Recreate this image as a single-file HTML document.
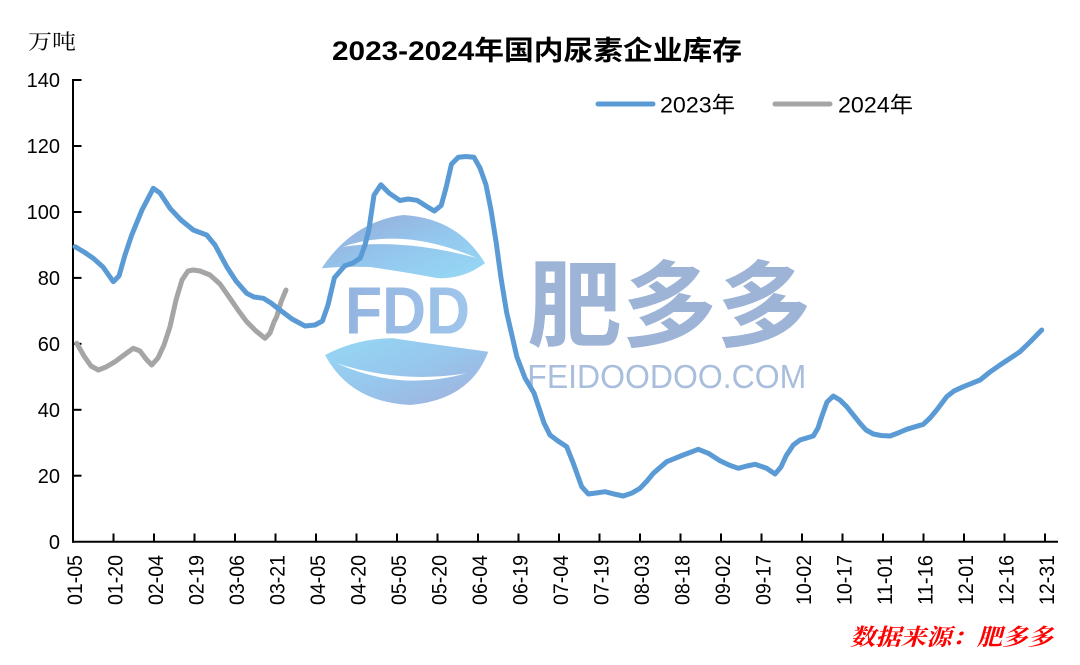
<!DOCTYPE html>
<html><head><meta charset="utf-8">
<style>
html,body{margin:0;padding:0;background:#fff;}
svg{display:block;}
</style></head>
<body>
<svg width="1080" height="665" viewBox="0 0 1080 665" xmlns="http://www.w3.org/2000/svg">
<defs>
<linearGradient id="g1" x1="0" y1="0" x2="1" y2="1">
<stop offset="0" stop-color="#96a9d7"/>
<stop offset="0.55" stop-color="#94c8ee"/>
<stop offset="1" stop-color="#96d9f5"/>
</linearGradient>
<linearGradient id="g2" x1="0" y1="0" x2="1" y2="1">
<stop offset="0" stop-color="#95d8f5"/>
<stop offset="0.5" stop-color="#97c6ec"/>
<stop offset="1" stop-color="#a0afdb"/>
</linearGradient>
<linearGradient id="g3" x1="0" y1="0" x2="1" y2="0">
<stop offset="0" stop-color="#93b4e0"/>
<stop offset="1" stop-color="#a0c6ec"/>
</linearGradient>
</defs>

<!-- watermark -->
<path d="M321.7,268.3 Q352,222 403,215 Q458,218 485,263.3 Q462,280 436.7,278 Q405,272 370,267 Q345,266 321.7,268.3 Z" fill="url(#g1)"/>
<path d="M343,246.7 Q403,226 476.7,258 Q403,238 343,246.7 Z" fill="#fff"/>
<path d="M325,355 Q358,338 393.3,338.3 Q430,344 488.3,351.7 Q470,400 410,405 Q350,402 325,355 Z" fill="url(#g2)"/>
<path d="M336.7,363.3 Q400,392 466.7,373.3 Q400,384 336.7,363.3 Z" fill="#fff"/>
<text x="345" y="333.5" font-family="Liberation Sans, sans-serif" font-weight="bold" font-size="67" textLength="125" lengthAdjust="spacingAndGlyphs" fill="url(#g3)">FDD</text>
<text x="527.3" y="339" font-family="Noto Sans CJK SC, sans-serif" font-weight="bold" font-size="94" textLength="284" lengthAdjust="spacingAndGlyphs" fill="#9db4d7">肥多多</text>
<text x="527.3" y="387.9" font-family="Liberation Sans, sans-serif" font-size="33" textLength="279" lengthAdjust="spacingAndGlyphs" fill="#a8bedc">FEIDOODOO.COM</text>

<!-- title & labels -->
<text x="332" y="60" font-family="Liberation Sans, Noto Sans CJK SC, sans-serif" font-weight="bold" font-size="27" textLength="410" lengthAdjust="spacingAndGlyphs" fill="#000">2023-2024年国内尿素企业库存</text>
<text x="28" y="49" font-family="Liberation Serif, Noto Serif CJK SC, serif" font-size="21" textLength="48" lengthAdjust="spacingAndGlyphs" fill="#000">万吨</text>
<text x="850" y="645" font-family="Liberation Serif, Noto Serif CJK SC, serif" font-style="italic" font-weight="bold" font-size="23" textLength="203" lengthAdjust="spacingAndGlyphs" fill="#ff0000">数据来源：肥多多</text>

<!-- legend -->
<line x1="598" y1="104" x2="653" y2="104" stroke="#5b9bd5" stroke-width="5" stroke-linecap="round"/>
<text x="660" y="112.5" font-family="Liberation Sans, Noto Sans CJK SC, sans-serif" font-size="22" textLength="75" lengthAdjust="spacingAndGlyphs" fill="#000">2023年</text>
<line x1="775" y1="104" x2="830" y2="104" stroke="#a5a5a5" stroke-width="5" stroke-linecap="round"/>
<text x="838" y="112.5" font-family="Liberation Sans, Noto Sans CJK SC, sans-serif" font-size="22" textLength="75" lengthAdjust="spacingAndGlyphs" fill="#000">2024年</text>

<!-- axes -->
<g stroke="#000" stroke-width="2" fill="none">
<line x1="73" y1="79" x2="73" y2="542.7"/>
<line x1="72" y1="541.7" x2="1058" y2="541.7"/>
<line x1="73" y1="80" x2="81.5" y2="80"/>
<line x1="73" y1="146" x2="81.5" y2="146"/>
<line x1="73" y1="212" x2="81.5" y2="212"/>
<line x1="73" y1="277.9" x2="81.5" y2="277.9"/>
<line x1="73" y1="343.8" x2="81.5" y2="343.8"/>
<line x1="73" y1="409.8" x2="81.5" y2="409.8"/>
<line x1="73" y1="475.7" x2="81.5" y2="475.7"/>
</g>
<g stroke="#000" stroke-width="2">
<line x1="113.5" y1="541.7" x2="113.5" y2="533.5"/>
<line x1="154" y1="541.7" x2="154" y2="533.5"/>
<line x1="194.5" y1="541.7" x2="194.5" y2="533.5"/>
<line x1="235" y1="541.7" x2="235" y2="533.5"/>
<line x1="275.5" y1="541.7" x2="275.5" y2="533.5"/>
<line x1="316" y1="541.7" x2="316" y2="533.5"/>
<line x1="356.5" y1="541.7" x2="356.5" y2="533.5"/>
<line x1="397" y1="541.7" x2="397" y2="533.5"/>
<line x1="437.5" y1="541.7" x2="437.5" y2="533.5"/>
<line x1="478" y1="541.7" x2="478" y2="533.5"/>
<line x1="518.5" y1="541.7" x2="518.5" y2="533.5"/>
<line x1="559" y1="541.7" x2="559" y2="533.5"/>
<line x1="599.5" y1="541.7" x2="599.5" y2="533.5"/>
<line x1="640" y1="541.7" x2="640" y2="533.5"/>
<line x1="680.5" y1="541.7" x2="680.5" y2="533.5"/>
<line x1="721" y1="541.7" x2="721" y2="533.5"/>
<line x1="761.5" y1="541.7" x2="761.5" y2="533.5"/>
<line x1="802" y1="541.7" x2="802" y2="533.5"/>
<line x1="842.5" y1="541.7" x2="842.5" y2="533.5"/>
<line x1="883" y1="541.7" x2="883" y2="533.5"/>
<line x1="923.5" y1="541.7" x2="923.5" y2="533.5"/>
<line x1="964" y1="541.7" x2="964" y2="533.5"/>
<line x1="1004.5" y1="541.7" x2="1004.5" y2="533.5"/>
<line x1="1045" y1="541.7" x2="1045" y2="533.5"/>
</g>

<!-- y labels -->
<g font-family="Liberation Sans, sans-serif" font-size="20" fill="#000" text-anchor="end">
<text x="60" y="87">140</text>
<text x="60" y="153">120</text>
<text x="60" y="219">100</text>
<text x="60" y="285">80</text>
<text x="60" y="351">60</text>
<text x="60" y="417">40</text>
<text x="60" y="483">20</text>
<text x="60" y="549">0</text>
</g>

<!-- x labels -->
<g font-family="Liberation Sans, sans-serif" font-size="21" fill="#000" text-anchor="end">
<text transform="translate(82.2,555) rotate(-90)" textLength="50" lengthAdjust="spacingAndGlyphs">01-05</text>
<text transform="translate(122.7,555) rotate(-90)" textLength="50" lengthAdjust="spacingAndGlyphs">01-20</text>
<text transform="translate(163.2,555) rotate(-90)" textLength="50" lengthAdjust="spacingAndGlyphs">02-04</text>
<text transform="translate(203.7,555) rotate(-90)" textLength="50" lengthAdjust="spacingAndGlyphs">02-19</text>
<text transform="translate(244.2,555) rotate(-90)" textLength="50" lengthAdjust="spacingAndGlyphs">03-06</text>
<text transform="translate(284.7,555) rotate(-90)" textLength="50" lengthAdjust="spacingAndGlyphs">03-21</text>
<text transform="translate(325.2,555) rotate(-90)" textLength="50" lengthAdjust="spacingAndGlyphs">04-05</text>
<text transform="translate(365.7,555) rotate(-90)" textLength="50" lengthAdjust="spacingAndGlyphs">04-20</text>
<text transform="translate(406.2,555) rotate(-90)" textLength="50" lengthAdjust="spacingAndGlyphs">05-05</text>
<text transform="translate(446.7,555) rotate(-90)" textLength="50" lengthAdjust="spacingAndGlyphs">05-20</text>
<text transform="translate(487.2,555) rotate(-90)" textLength="50" lengthAdjust="spacingAndGlyphs">06-04</text>
<text transform="translate(527.7,555) rotate(-90)" textLength="50" lengthAdjust="spacingAndGlyphs">06-19</text>
<text transform="translate(568.2,555) rotate(-90)" textLength="50" lengthAdjust="spacingAndGlyphs">07-04</text>
<text transform="translate(608.7,555) rotate(-90)" textLength="50" lengthAdjust="spacingAndGlyphs">07-19</text>
<text transform="translate(649.2,555) rotate(-90)" textLength="50" lengthAdjust="spacingAndGlyphs">08-03</text>
<text transform="translate(689.7,555) rotate(-90)" textLength="50" lengthAdjust="spacingAndGlyphs">08-18</text>
<text transform="translate(730.2,555) rotate(-90)" textLength="50" lengthAdjust="spacingAndGlyphs">09-02</text>
<text transform="translate(770.7,555) rotate(-90)" textLength="50" lengthAdjust="spacingAndGlyphs">09-17</text>
<text transform="translate(811.2,555) rotate(-90)" textLength="50" lengthAdjust="spacingAndGlyphs">10-02</text>
<text transform="translate(851.7,555) rotate(-90)" textLength="50" lengthAdjust="spacingAndGlyphs">10-17</text>
<text transform="translate(892.2,555) rotate(-90)" textLength="50" lengthAdjust="spacingAndGlyphs">11-01</text>
<text transform="translate(932.7,555) rotate(-90)" textLength="50" lengthAdjust="spacingAndGlyphs">11-16</text>
<text transform="translate(973.2,555) rotate(-90)" textLength="50" lengthAdjust="spacingAndGlyphs">12-01</text>
<text transform="translate(1013.7,555) rotate(-90)" textLength="50" lengthAdjust="spacingAndGlyphs">12-16</text>
<text transform="translate(1054.2,555) rotate(-90)" textLength="50" lengthAdjust="spacingAndGlyphs">12-31</text>
</g>

<!-- series 2024 -->
<polyline fill="none" stroke="#a5a5a5" stroke-width="5" stroke-linejoin="round" stroke-linecap="round" points="76.7,343.3 84,356 91,366 98.3,370 106,367 115,361.7 124,355 133.3,348.3 140,351 146,359 151.7,365 158,358 164,345 170,326.7 176,300 182,280 188,271 193.3,270 200,271 210,275 220,284 230,298.3 238,310 246.7,321.7 256,331 265,338.3 270,333 274,322 276.7,316.7 281,302 286,290"/>

<!-- series 2023 -->
<polyline fill="none" stroke="#5b9bd5" stroke-width="5" stroke-linejoin="round" stroke-linecap="round" points="75,246.7 84,252 93.3,258.3 103,267 113.3,281.7 119,276 125,255 131.7,235 142,210 153.3,188.3 160,193 170,208.3 181,220 193.3,230 206.7,235 215,245 226.7,266.7 236,281 246.7,293.3 254,297 263.3,298.3 271,303 280,310 292,319 305,326 315,325 322.4,321 328,305 334.4,277.7 344.8,265.7 353,263 360.3,258 365,245 368.9,229.5 374,195.1 380.9,184.8 389,193 399.9,200.5 408,199 417.1,200.3 426,206 434.3,211 441.2,205.4 446,188 451.5,164.1 458.4,157.2 466,156.5 473.9,157.2 480,168 486,184.8 491,210 496.3,243.3 501,278 506.6,312.2 516.9,356.9 525,378 534,393 544,423 550,435 558,441 566.7,446.7 573.3,463.3 581.7,486.7 588.3,494 596,493 605,491.7 614,494 623.3,496 632,493 640,488.3 647,481 653.3,473.3 666.7,461.7 683.3,455 698.3,449.3 708.3,453.3 720,460.7 729,465 738.3,468.3 747,466 755,464.3 766.7,468.3 775,474 781,467 786,456 793.3,445 800,440 813.3,436 818,428 821.7,416.7 827,402 833.3,396 840,400 846.7,406.7 860,423.3 866,430 873.3,434 881,435.5 890,436 898,433 906.7,429.3 923.3,424.3 930,418 936.7,410 946.7,396.7 954,391 963.3,386.7 980,380 990,372 1000,365 1020,351.7 1030,342 1041.7,330"/>
</svg>
</body></html>
